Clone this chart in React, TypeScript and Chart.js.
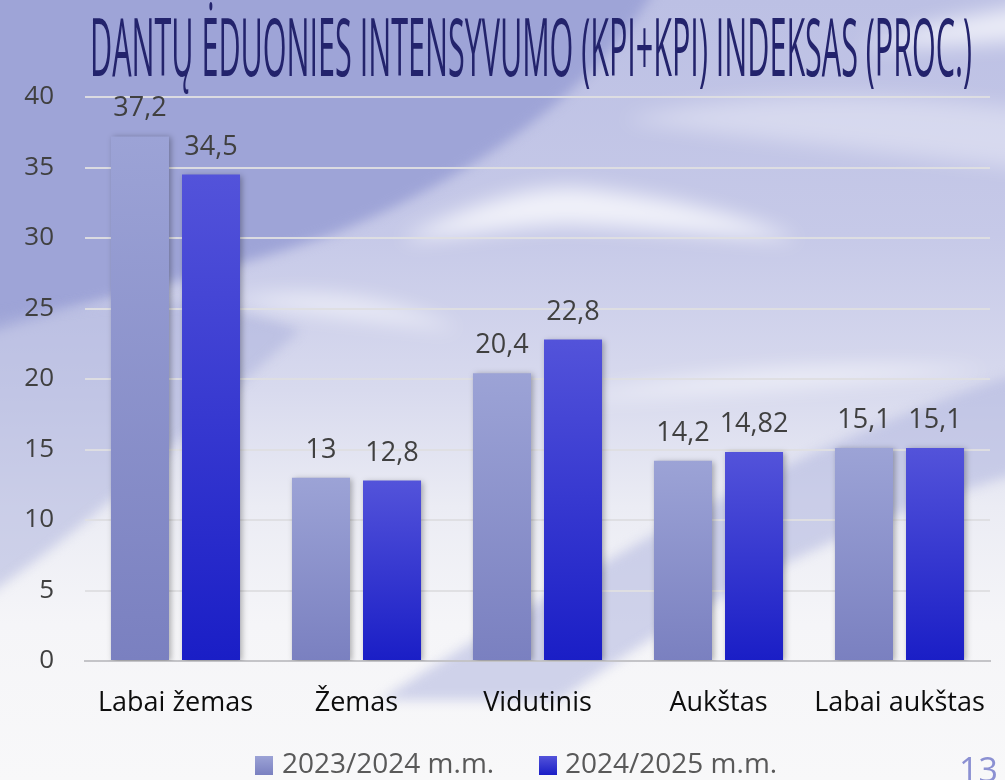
import React, { useEffect, useRef } from "react";
import { Chart, registerables } from "chart.js";

Chart.register(...registerables);

const titleText = "DANTŲ ĖDUONIES INTENSYVUMO (KPI+KPI) INDEKSAS (PROC.)";
const categories = ["Labai žemas", "Žemas", "Vidutinis", "Aukštas", "Labai aukštas"];
const seriesNames = ["2023/2024 m.m.", "2024/2025 m.m."];
const values2023 = [37.2, 13, 20.4, 14.2, 15.1];
const values2024 = [34.5, 12.8, 22.8, 14.82, 15.1];
const yTicks = [0, 5, 10, 15, 20, 25, 30, 35, 40];
const pageNumber = "13";

const FONT = "'Open Sans', 'Noto Sans', sans-serif";
const grad1 = ["#9ca3d6", "#7a80c0"];
const grad2 = ["#5353da", "#1a1ec6"];

function fmt(v: number) {
  return String(v).replace(".", ",");
}

function makeBarColor(colors: string[]) {
  return (ctx: any) => {
    const chart = ctx.chart;
    const { chartArea, scales } = chart;
    if (!chartArea || ctx.type !== "data" || !scales.y) return colors[0];
    const top = scales.y.getPixelForValue(ctx.raw);
    const bottom = scales.y.getPixelForValue(0);
    if (!isFinite(top) || !isFinite(bottom) || bottom - top < 1) return colors[0];
    const g = chart.ctx.createLinearGradient(0, top, 0, bottom);
    g.addColorStop(0, colors[0]);
    g.addColorStop(1, colors[1]);
    return g;
  };
}

const backgroundPlugin = {
  id: "slideBackground",
  beforeDraw(chart: any) {
    const { ctx, width, height } = chart;
    ctx.save();
    const base = ctx.createLinearGradient(0, 0, 0, height);
    base.addColorStop(0, "#bcc0e4");
    base.addColorStop(0.3, "#c6c9e8");
    base.addColorStop(0.5, "#d8daee");
    base.addColorStop(0.65, "#ebecf4");
    base.addColorStop(0.8, "#f5f5f8");
    base.addColorStop(1, "#f8f8f9");
    ctx.fillStyle = base;
    ctx.fillRect(0, 0, width, height);

    ctx.filter = "blur(6px)";
    ctx.fillStyle = "#9ea4d7";
    ctx.beginPath();
    ctx.moveTo(-20, -20);
    ctx.lineTo(660, -20);
    ctx.bezierCurveTo(600, 90, 470, 180, 330, 235);
    ctx.bezierCurveTo(200, 280, 90, 300, -20, 335);
    ctx.closePath();
    ctx.fill();

    ctx.fillStyle = "rgba(170,175,220,0.5)";
    ctx.beginPath();
    ctx.moveTo(-20, 320);
    ctx.bezierCurveTo(100, 300, 200, 290, 300, 330);
    ctx.bezierCurveTo(200, 420, 100, 520, -20, 600);
    ctx.closePath();
    ctx.fill();

    ctx.fillStyle = "rgba(175,180,222,0.55)";
    ctx.beginPath();
    ctx.moveTo(380, 700);
    ctx.bezierCurveTo(600, 560, 800, 440, 1030, 370);
    ctx.lineTo(1030, 470);
    ctx.bezierCurveTo(850, 520, 700, 600, 560, 700);
    ctx.closePath();
    ctx.fill();

    ctx.filter = "blur(10px)";
    ctx.fillStyle = "rgba(255,255,255,0.75)";
    ctx.beginPath();
    ctx.moveTo(400, 240);
    ctx.bezierCurveTo(480, 200, 540, 180, 600, 190);
    ctx.bezierCurveTo(680, 200, 740, 215, 800, 240);
    ctx.bezierCurveTo(700, 235, 620, 225, 560, 225);
    ctx.bezierCurveTo(500, 228, 450, 238, 400, 240);
    ctx.closePath();
    ctx.fill();

    ctx.fillStyle = "rgba(255,255,255,0.6)";
    ctx.beginPath();
    ctx.moveTo(230, 300);
    ctx.bezierCurveTo(320, 285, 400, 300, 460, 330);
    ctx.bezierCurveTo(380, 320, 300, 315, 230, 300);
    ctx.closePath();
    ctx.fill();

    ctx.fillStyle = "rgba(255,255,255,0.6)";
    ctx.beginPath();
    ctx.moveTo(560, 400);
    ctx.bezierCurveTo(700, 370, 850, 360, 990, 370);
    ctx.bezierCurveTo(850, 385, 700, 395, 560, 400);
    ctx.closePath();
    ctx.fill();

    ctx.fillStyle = "rgba(255,255,255,0.7)";
    ctx.beginPath();
    ctx.moveTo(860, 45);
    ctx.bezierCurveTo(920, 25, 970, 15, 1030, 5);
    ctx.lineTo(1030, 40);
    ctx.bezierCurveTo(960, 45, 910, 48, 860, 45);
    ctx.closePath();
    ctx.fill();

    ctx.fillStyle = "rgba(255,255,255,0.35)";
    ctx.beginPath();
    ctx.moveTo(620, 120);
    ctx.bezierCurveTo(750, 90, 880, 90, 1030, 110);
    ctx.lineTo(1030, 170);
    ctx.bezierCurveTo(880, 150, 750, 140, 620, 120);
    ctx.closePath();
    ctx.fill();

    ctx.filter = "none";
    ctx.restore();
  },
  afterDraw(chart: any) {
    const { ctx } = chart;
    ctx.save();
    ctx.font = `400 80px ${FONT}`;
    ctx.fillStyle = "#23236c";
    ctx.textBaseline = "alphabetic";
    ctx.textAlign = "left";
    const w = ctx.measureText(titleText).width;
    const sx = 882 / w;
    ctx.translate(90, 76);
    ctx.scale(sx, 1);
    ctx.fillText(titleText, 0, 0);
    ctx.restore();

    ctx.save();
    const boxes = [
      { x: 255, tx: 282, colors: grad1, label: seriesNames[0] },
      { x: 539, tx: 565, colors: grad2, label: seriesNames[1] },
    ];
    ctx.font = `400 28px ${FONT}`;
    ctx.textBaseline = "alphabetic";
    ctx.textAlign = "left";
    boxes.forEach((b) => {
      const g = ctx.createLinearGradient(0, 756, 0, 775);
      g.addColorStop(0, b.colors[0]);
      g.addColorStop(1, b.colors[1]);
      ctx.fillStyle = g;
      ctx.fillRect(b.x, 756, 18, 19);
      ctx.fillStyle = "#595959";
      ctx.fillText(b.label, b.tx, 773);
    });

    ctx.font = `400 34px ${FONT}`;
    ctx.fillStyle = "#8b90d2";
    ctx.textAlign = "right";
    ctx.fillText(pageNumber, 998, 782);
    ctx.restore();
  },
};

const shadowAndLabels = {
  id: "shadowAndLabels",
  beforeDatasetsDraw(chart: any) {
    const { ctx } = chart;
    ctx.save();
    ctx.shadowColor = "rgba(0,0,0,0.3)";
    ctx.shadowBlur = 6;
    ctx.shadowOffsetX = 2;
    ctx.shadowOffsetY = 1;
  },
  afterDatasetsDraw(chart: any) {
    const { ctx } = chart;
    ctx.restore();
    ctx.save();
    ctx.font = `400 27px ${FONT}`;
    ctx.fillStyle = "#404040";
    ctx.textAlign = "center";
    ctx.textBaseline = "alphabetic";
    chart.data.datasets.forEach((ds: any, di: number) => {
      const meta = chart.getDatasetMeta(di);
      meta.data.forEach((el: any, i: number) => {
        ctx.fillText(fmt(ds.data[i]), el.x, el.y - 20);
      });
    });
    ctx.restore();
  },
};

export default function App() {
  const ref = useRef<HTMLCanvasElement | null>(null);
  useEffect(() => {
    document.body.style.margin = "0";
    const canvas = ref.current!;
    const chart = new Chart(canvas, {
      type: "bar",
      data: {
        labels: categories,
        datasets: [
          {
            label: seriesNames[0],
            data: values2023,
            backgroundColor: makeBarColor(grad1),
            borderWidth: 0,
          },
          {
            label: seriesNames[1],
            data: values2024,
            backgroundColor: makeBarColor(grad2),
            borderWidth: 0,
          },
        ],
      },
      options: {
        responsive: false,
        animation: false,
        devicePixelRatio: 1,
        layout: { padding: { top: 97, left: 0, right: 15, bottom: 52 } },
        datasets: {
          bar: { categoryPercentage: 0.785, barPercentage: 0.817 },
        },
        plugins: {
          legend: { display: false },
          tooltip: { enabled: false },
          title: { display: false },
        },
        scales: {
          x: {
            grid: { display: false, drawTicks: false },
            border: { display: true, color: "#c4c4c8", width: 2 },
            ticks: {
              color: "#0d0d0d",
              font: { family: FONT, size: 27 },
              padding: 26,
              maxRotation: 0,
              autoSkip: false,
            },
            afterFit: (axis: any) => {
              axis.height = 67;
              axis.paddingLeft = 0;
              axis.paddingRight = 0;
            },
          },
          y: {
            min: 0,
            max: 40,
            afterBuildTicks: (axis: any) => {
              axis.ticks = yTicks.map((v) => ({ value: v }));
            },
            grid: { color: "rgba(222,222,226,0.95)", lineWidth: 2, drawTicks: false },
            border: { display: false },
            ticks: {
              color: "#404040",
              font: { family: FONT, size: 26 },
              padding: 31,
            },
            afterFit: (axis: any) => {
              axis.width = 85;
              axis.paddingTop = 0;
              axis.paddingBottom = 0;
            },
          },
        },
      },
      plugins: [backgroundPlugin, shadowAndLabels],
    });
    return () => chart.destroy();
  }, []);
  return (
    <div style={{ width: 1005, height: 780 }}>
      <canvas ref={ref} width={1005} height={780} style={{ display: "block" }} />
    </div>
  );
}
